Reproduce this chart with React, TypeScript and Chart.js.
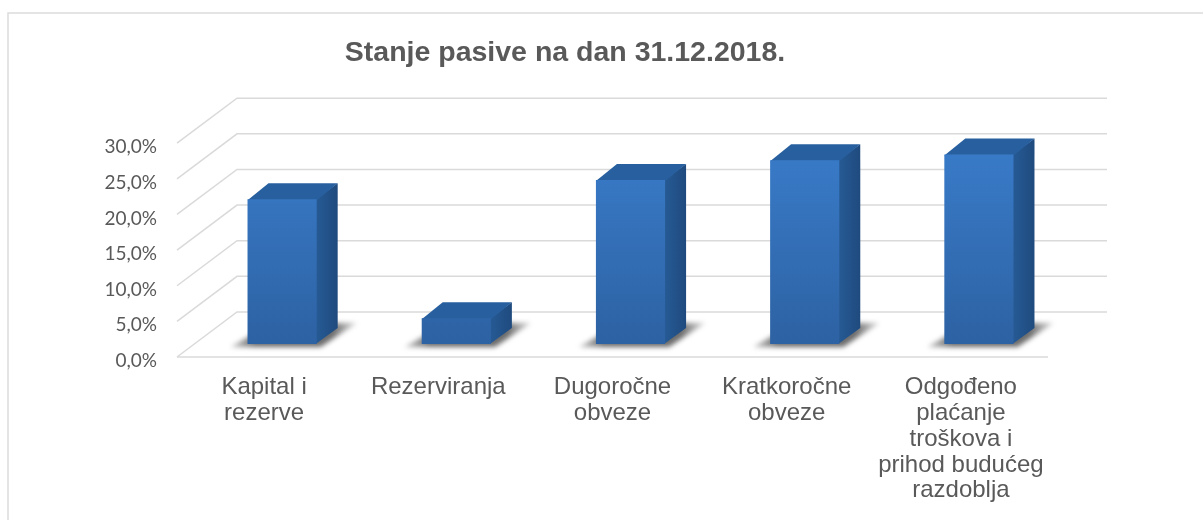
import React, { useEffect, useRef } from "react";
import { Chart, registerables } from "chart.js";

Chart.register(...registerables);

const categories = [
  ["Kapital i", "rezerve"],
  ["Rezerviranja"],
  ["Dugoročne", "obveze"],
  ["Kratkoročne", "obveze"],
  ["Odgođeno", "plaćanje", "troškova i", "prihod budućeg", "razdoblja"],
];
const values = [20.3, 3.6, 23.0, 25.8, 26.6];
const titleText = "Stanje pasive na dan 31.12.2018.";

const WALL_DX = 60;
const WALL_DY = -45;
const BAR_DX = 18;
const BAR_DY = -13;
const DEPTH_DX = 21;
const DEPTH_DY = -16;

const wallPlugin = {
  id: "wall",
  beforeDraw(chart: any) {
    const { ctx, width, height } = chart;
    ctx.save();
    ctx.fillStyle = "#ffffff";
    ctx.fillRect(0, 0, width, height);
    ctx.strokeStyle = "#dcdcdc";
    ctx.lineWidth = 1.5;
    ctx.beginPath();
    ctx.moveTo(8, height);
    ctx.lineTo(8, 13);
    ctx.lineTo(width, 13);
    ctx.stroke();
    ctx.restore();
  },
  beforeDatasetsDraw(chart: any) {
    const { ctx, scales } = chart;
    const { x, y } = scales;
    ctx.save();
    ctx.lineWidth = 1.5;
    ctx.strokeStyle = "#dadada";
    y.ticks.forEach((t: any) => {
      const py = y.getPixelForValue(t.value);
      ctx.beginPath();
      ctx.moveTo(x.left, py);
      ctx.lineTo(x.left + WALL_DX, py + WALL_DY);
      ctx.lineTo(x.right + WALL_DX - 1, py + WALL_DY);
      ctx.stroke();
    });
    const by = y.getPixelForValue(0);
    ctx.beginPath();
    ctx.moveTo(x.left, by);
    ctx.lineTo(x.right, by);
    ctx.stroke();
    ctx.restore();
  },
};

const bar3dPlugin = {
  id: "bar3d",
  beforeDatasetDraw(chart: any, args: any) {
    const { ctx } = chart;
    const meta = chart.getDatasetMeta(args.index);
    ctx.save();
    ctx.translate(BAR_DX, BAR_DY);
    meta.data.forEach((el: any) => {
      const { x, y, base, width } = el.getProps(["x", "y", "base", "width"], true);
      const l = x - width / 2;
      const r = x + width / 2;
      // floor shadow
      ctx.save();
      ctx.filter = "blur(2.5px)";
      const g = ctx.createLinearGradient(l - 18, 0, r + 42, 0);
      g.addColorStop(0, "rgba(130,130,130,0.45)");
      g.addColorStop(0.2, "rgba(100,100,100,0.95)");
      g.addColorStop(0.8, "rgba(100,100,100,0.95)");
      g.addColorStop(1, "rgba(160,160,160,0.4)");
      ctx.fillStyle = g;
      ctx.beginPath();
      ctx.moveTo(l - 17, base + 3);
      ctx.lineTo(r + 4, base + 3);
      ctx.lineTo(r + 40, base - 21);
      ctx.lineTo(l + 25, base - 21);
      ctx.closePath();
      ctx.fill();
      ctx.restore();
      // side face
      const side = ctx.createLinearGradient(r, 0, r + DEPTH_DX, 0);
      side.addColorStop(0, "#265a94");
      side.addColorStop(1, "#1f4a7e");
      ctx.fillStyle = side;
      ctx.beginPath();
      ctx.moveTo(r - 1, y);
      ctx.lineTo(r + DEPTH_DX, y + DEPTH_DY);
      ctx.lineTo(r + DEPTH_DX, base + DEPTH_DY);
      ctx.lineTo(r - 1, base);
      ctx.closePath();
      ctx.fill();
      // top face
      ctx.fillStyle = "#28609f";
      ctx.beginPath();
      ctx.moveTo(l, y + 1);
      ctx.lineTo(l + DEPTH_DX, y + DEPTH_DY);
      ctx.lineTo(r + DEPTH_DX, y + DEPTH_DY);
      ctx.lineTo(r, y + 1);
      ctx.closePath();
      ctx.fill();
    });
    return true;
  },
  afterDatasetDraw(chart: any) {
    chart.ctx.restore();
  },
};

export default function App() {
  const ref = useRef<HTMLCanvasElement | null>(null);
  useEffect(() => {
    if (!ref.current) return;
    const chart = new Chart(ref.current, {
      type: "bar",
      data: {
        labels: categories,
        datasets: [
          {
            data: values,
            barPercentage: 0.397,
            categoryPercentage: 1,
            backgroundColor: (c: any) => {
              const area = c.chart.chartArea;
              if (!area) return "#3470b8";
              const g = c.chart.ctx.createLinearGradient(0, area.top, 0, area.bottom);
              g.addColorStop(0, "#3a7dcc");
              g.addColorStop(1, "#2d62a3");
              return g;
            },
          },
        ],
      },
      options: {
        responsive: false,
        animation: false,
        layout: { padding: { left: 82, right: 155, top: 0, bottom: 0 } },
        plugins: {
          legend: { display: false },
          tooltip: { enabled: false },
          title: {
            display: true,
            text: titleText,
            color: "#595959",
            font: { family: "Liberation Sans", size: 28.5, weight: "bold", lineHeight: 1.2 },
            padding: { top: 36, bottom: 73 },
          },
        },
        scales: {
          x: {
            afterFit: (s: any) => {
              s.height = 163;
            },
            grid: { display: false },
            border: { display: false },
            ticks: {
              color: "#595959",
              maxRotation: 0,
              autoSkip: false,
              padding: 10,
              font: { family: "Liberation Sans", size: 24, lineHeight: 1.07 },
            },
          },
          y: {
            min: 0,
            max: 30,
            afterFit: (s: any) => {
              s.width = 95;
            },
            grid: { display: false },
            border: { display: false },
            ticks: {
              stepSize: 5,
              color: "#595959",
              padding: 12,
              labelOffset: 4,
              font: { family: "Lato", size: 19 },
              callback: (v: any) => Number(v).toFixed(1).replace(".", ",") + "%",
            },
          },
        },
      },
      plugins: [wallPlugin, bar3dPlugin],
    });
    return () => chart.destroy();
  }, []);
  return (
    <div style={{ position: "absolute", left: 0, top: 0, width: 1203, height: 520, overflow: "hidden" }}>
      <canvas ref={ref} width={1203} height={520} style={{ display: "block", filter: "blur(0.4px)" }} />
    </div>
  );
}
